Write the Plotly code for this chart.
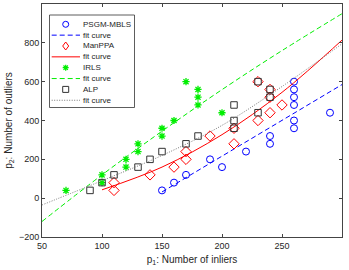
import plotly.graph_objects as go

# ---------------- data ----------------
inliers_psgm = [150, 160, 170, 190, 200, 220, 240, 240, 260, 260, 260, 260, 260, 260, 290]
outliers_psgm = [40, 80, 120, 200, 160, 240, 280, 320, 360, 400, 480, 520, 560, 600, 440]
fit_psgm_x = [150, 300]
fit_psgm_y = [32, 585]

inliers_manppa = [110, 110, 140, 160, 170, 170, 190, 210, 210, 230, 230, 240, 240, 240, 250]
outliers_manppa = [80, 40, 120, 160, 240, 200, 320, 280, 360, 400, 600, 440, 520, 560, 480]
fit_manppa_x = [100, 150, 200, 250, 300]
fit_manppa_y = [43, 160, 327, 545, 814]

inliers_irls = [70, 100, 100, 120, 120, 130, 130, 150, 150, 160, 170, 180, 180, 180, 200]
outliers_irls = [40, 120, 80, 200, 160, 280, 240, 360, 320, 400, 600, 560, 520, 480, 440]
fit_irls_x = [50, 100, 150, 200, 250, 300]
fit_irls_y = [-120, 120, 345, 559, 760, 950]

inliers_alp = [90, 100, 110, 130, 140, 150, 170, 180, 210, 210, 210, 230, 230, 240, 240]
outliers_alp = [40, 80, 120, 160, 200, 240, 280, 320, 360, 400, 480, 440, 600, 520, 560]
fit_alp_x = [50, 100, 150, 200, 250, 300]
fit_alp_y = [-35, 90, 220, 375, 575, 795]

legend_names = ["PSGM-MBLS", "fit curve", "ManPPA", "fit curve",
                "IRLS", "fit curve", "ALP", "fit curve"]
x_ticks = [50, 100, 150, 200, 250, 300]
y_ticks = [-200, 0, 200, 400, 600, 800, 1000]

# ---------------- styles ----------------
BLUE = "#0000ff"
RED = "#ff0000"
GREEN = "#00ee00"
BLACK = "#333333"
GRAYLINE = "#444444"
FONT = "Liberation Sans, Arial, sans-serif"

W, H = 349, 270
L, T, R, B = 42, 4, 7, 33
PW, PH = W - L - R, H - T - B

fig = go.Figure()

fig.add_trace(go.Scatter(x=inliers_psgm, y=outliers_psgm, mode="markers",
                         marker=dict(symbol="circle-open", size=7, color=BLUE, line=dict(width=1)),
                         showlegend=False))
fig.add_trace(go.Scatter(x=fit_psgm_x, y=fit_psgm_y, mode="lines",
                         line=dict(color=BLUE, width=1, dash="5px,3px"), showlegend=False))
fig.add_trace(go.Scatter(x=inliers_manppa, y=outliers_manppa, mode="markers",
                         marker=dict(symbol="diamond-open", size=8, color=RED, line=dict(width=1)),
                         showlegend=False))
fig.add_trace(go.Scatter(x=fit_manppa_x, y=fit_manppa_y, mode="lines", line_shape="spline",
                         line=dict(color=RED, width=1), showlegend=False))
fig.add_trace(go.Scatter(x=inliers_irls, y=outliers_irls, mode="markers",
                         marker=dict(symbol="asterisk-open", size=6, color=GREEN, line=dict(width=1.3, color=GREEN)),
                         showlegend=False))
fig.add_trace(go.Scatter(x=fit_irls_x, y=fit_irls_y, mode="lines", line_shape="spline",
                         line=dict(color=GREEN, width=1, dash="5px,3px"), showlegend=False))
fig.add_trace(go.Scatter(x=inliers_alp, y=outliers_alp, mode="markers",
                         marker=dict(symbol="square-open", size=6.5, color=BLACK, line=dict(width=1)),
                         showlegend=False))
fig.add_trace(go.Scatter(x=fit_alp_x, y=fit_alp_y, mode="lines", line_shape="spline",
                         line=dict(color="#777777", width=1, dash="1px,1.5px"), showlegend=False))

# ---------------- manual legend (MATLAB-style compact box) ----------------
def PX(px):
    return (px - L) / PW

def PY(py):
    return (T + PH - py) / PH

shapes = [dict(type="rect", xref="paper", yref="paper",
               x0=PX(49.5), x1=PX(134.5), y0=PY(107.5), y1=PY(15),
               line=dict(color="#333333", width=0.8), fillcolor="white", layer="above")]
annotations = []
row0, drow = 24.3, 10.85
sym_x = 65.7
line_styles = [None, dict(color=BLUE, dash="5px,3px"), None, dict(color=RED, dash="solid"),
               None, dict(color=GREEN, dash="5px,3px"), None, dict(color="#777777", dash="1px,1.5px")]
for i, name in enumerate(legend_names):
    ry = row0 + i * drow
    annotations.append(dict(text=name, xref="paper", yref="paper", x=PX(81), y=PY(ry),
                            xanchor="left", yanchor="middle", showarrow=False,
                            font=dict(size=8, color="#262626", family=FONT)))
    if i in (0, 2, 4, 6):
        cx, cy = PX(sym_x), PY(ry)
        dx, dy = 3.0 / PW, 3.0 / PH
        if i == 0:
            shapes.append(dict(type="circle", xref="paper", yref="paper",
                               x0=cx - dx, x1=cx + dx, y0=cy - dy, y1=cy + dy,
                               line=dict(color=BLUE, width=1), layer="above"))
        elif i == 2:
            ddy = 4.0 / PH
            shapes.append(dict(type="path", xref="paper", yref="paper",
                               path=f"M{cx},{cy+ddy}L{cx+dx},{cy}L{cx},{cy-ddy}L{cx-dx},{cy}Z",
                               line=dict(color=RED, width=1), layer="above"))
        elif i == 4:
            ex, ey = 2.2 / PW, 2.2 / PH
            p = (f"M{cx-dx},{cy}L{cx+dx},{cy}M{cx},{cy-dy}L{cx},{cy+dy}"
                 f"M{cx-ex},{cy-ey}L{cx+ex},{cy+ey}M{cx-ex},{cy+ey}L{cx+ex},{cy-ey}")
            shapes.append(dict(type="path", xref="paper", yref="paper", path=p,
                               line=dict(color=GREEN, width=1.2), layer="above"))
        else:
            shapes.append(dict(type="rect", xref="paper", yref="paper",
                               x0=cx - dx, x1=cx + dx, y0=cy - dy, y1=cy + dy,
                               line=dict(color=BLACK, width=1), layer="above"))
    else:
        st = line_styles[i]
        shapes.append(dict(type="line", xref="paper", yref="paper",
                           x0=PX(51.7), x1=PX(80), y0=PY(ry), y1=PY(ry),
                           line=dict(color=st["color"], width=1, dash=st["dash"]), layer="above"))

axis_common = dict(showgrid=False, zeroline=False, showline=True, linecolor=GRAYLINE, linewidth=1,
                   mirror="ticks", ticks="inside", ticklen=3, tickcolor=GRAYLINE, tickwidth=1,
                   tickfont=dict(size=9, color="#262626", family=FONT))

fig.update_layout(
    width=W, height=H,
    margin=dict(l=L, r=R, t=T, b=B),
    paper_bgcolor="white", plot_bgcolor="white",
    font=dict(family=FONT, color="#262626"),
    shapes=shapes, annotations=annotations,
    xaxis=dict(range=[50, 300], tickvals=x_ticks,
               title=dict(text="p<sub>1</sub>: Number of inliers", font=dict(size=10, family=FONT), standoff=6),
               **axis_common),
    yaxis=dict(range=[-200, 1000], tickvals=y_ticks,
               title=dict(text="p<sub>2</sub>: Number of outliers", font=dict(size=10, family=FONT), standoff=4),
               **axis_common),
)

fig.write_html("out.html", config={"displayModeBar": False},
               post_script="document.body.style.margin='0';document.body.style.padding='0';")
